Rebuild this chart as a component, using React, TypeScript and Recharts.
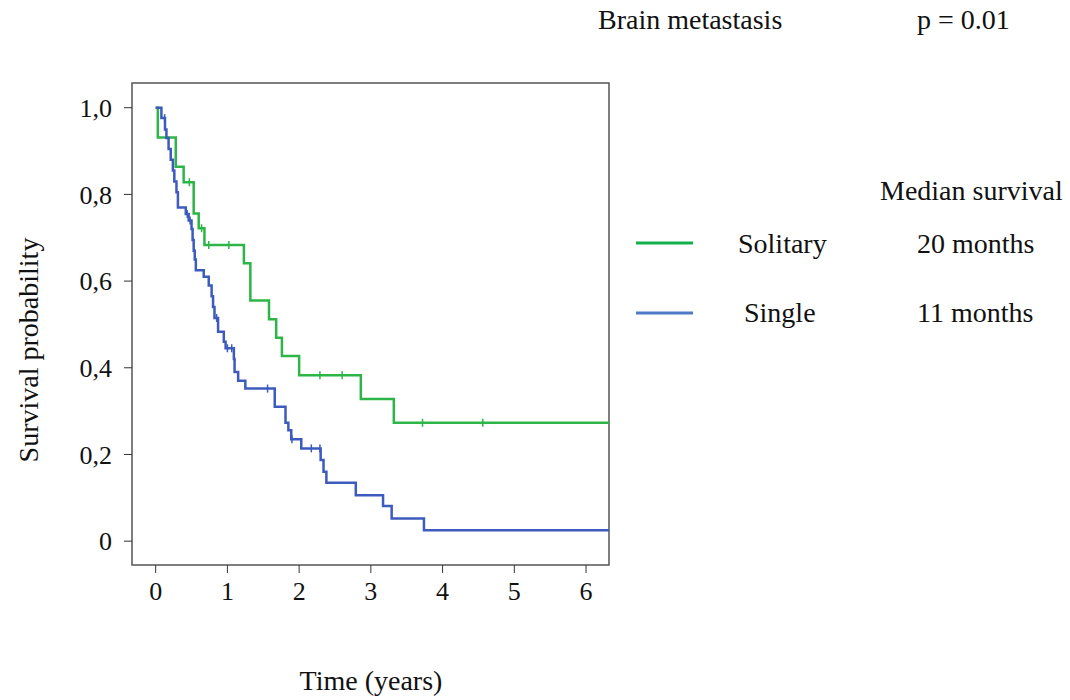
import React from "react";
import { ComposedChart, Line, Scatter, XAxis, YAxis, ReferenceArea } from "recharts";

// Kaplan-Meier step points (time in years, survival probability)
const solitaryTime = [0, 0.03, 0.28, 0.39, 0.53, 0.6, 0.68, 1.23, 1.32, 1.58, 1.68, 1.76, 2.0, 2.86, 3.32, 6.32];
const solitarySurv = [1.0, 0.931, 0.864, 0.828, 0.756, 0.722, 0.683, 0.641, 0.555, 0.512, 0.469, 0.427, 0.383, 0.328, 0.273, 0.273];
const solitaryCensored = [0.47, 0.64, 0.74, 1.02, 2.29, 2.6, 3.72, 4.56];

const singleTime = [
  0, 0.08, 0.13, 0.15, 0.18, 0.21, 0.24, 0.26, 0.29, 0.31, 0.42, 0.46, 0.5, 0.515, 0.53, 0.545, 0.56, 0.67, 0.74, 0.78,
  0.8, 0.82, 0.87, 0.95, 0.975, 1.09, 1.1, 1.15, 1.25, 1.66, 1.81, 1.85, 1.89, 2.03, 2.3, 2.34, 2.38, 2.79, 3.17, 3.29,
  3.74, 6.32
];
const singleSurv = [
  1.0, 0.976, 0.95, 0.93, 0.905, 0.88, 0.855, 0.83, 0.805, 0.77, 0.755, 0.74, 0.72, 0.695, 0.67, 0.65, 0.625, 0.61, 0.59, 0.565,
  0.54, 0.515, 0.483, 0.46, 0.445, 0.42, 0.39, 0.37, 0.352, 0.31, 0.273, 0.256, 0.235, 0.214, 0.187, 0.16, 0.135, 0.106, 0.081, 0.052,
  0.025, 0.025
];
const singleCensored = [0.125, 0.44, 0.48, 0.85, 1.0, 1.06, 1.56, 1.9, 2.17, 2.29];

const xTicks = [0, 1, 2, 3, 4, 5, 6];
const yTicks = [0, 0.2, 0.4, 0.6, 0.8, 1.0];
const xDomain: [number, number] = [-0.33, 6.32];
const yDomain: [number, number] = [-0.055, 1.057];

const GREEN = "#2db548";
const BLUE = "#3d5bbd";
const FONT = "'Liberation Serif', 'Times New Roman', serif";

const toRows = (t: number[], s: number[]) => t.map((time, i) => ({ t: time, s: s[i] }));
const stepAt = (t: number[], s: number[], x: number) => {
  let v = s[0];
  for (let i = 0; i < t.length; i++) if (t[i] <= x) v = s[i];
  return v;
};
const censorRows = (c: number[], t: number[], s: number[]) => c.map((x) => ({ t: x, s: stepAt(t, s, x) }));

const tickShape = (color: string) => (props: any) => {
  const { cx, cy } = props;
  return <line x1={cx} x2={cx} y1={cy - 4} y2={cy + 4} stroke={color} strokeWidth={1.5} />;
};

const yFormat = (v: number) => (v === 0 ? "0" : v.toFixed(1).replace(".", ","));

export default function App() {
  const textStyle = { fontFamily: FONT, fill: "#111" };
  return (
    <div style={{ position: "absolute", left: 0, top: 0, width: 1070, height: 700, background: "#fff" }}>
      <ComposedChart
        width={1070}
        height={700}
        margin={{ top: 83, right: 461, left: 52, bottom: 95 }}
      >
        <XAxis
          type="number"
          dataKey="t"
          domain={xDomain}
          ticks={xTicks}
          allowDataOverflow
          axisLine={false}
          tickLine={{ stroke: "#333" }}
          tickSize={8}
          tickMargin={9}
          height={40}
          tick={{ fontSize: 26, fontFamily: FONT, fill: "#111" }}
        />
        <YAxis
          type="number"
          domain={yDomain}
          ticks={yTicks}
          allowDataOverflow
          axisLine={false}
          tickLine={{ stroke: "#333" }}
          tickSize={8}
          tickMargin={12}
          width={80}
          tickFormatter={yFormat}
          tick={{ fontSize: 26, fontFamily: FONT, fill: "#111" }}
        />
        <ReferenceArea x1={xDomain[0]} x2={xDomain[1]} y1={yDomain[0]} y2={yDomain[1]} fill="none" stroke="#555" strokeWidth={1.5} />
        <Line
          data={toRows(solitaryTime, solitarySurv)}
          dataKey="s"
          type="stepAfter"
          stroke={GREEN}
          strokeWidth={2.5}
          dot={false}
          isAnimationActive={false}
        />
        <Line
          data={toRows(singleTime, singleSurv)}
          dataKey="s"
          type="stepAfter"
          stroke={BLUE}
          strokeWidth={2.5}
          dot={false}
          isAnimationActive={false}
        />
        <Scatter
          data={censorRows(solitaryCensored, solitaryTime, solitarySurv)}
          dataKey="s"
          shape={tickShape(GREEN)}
          isAnimationActive={false}
        />
        <Scatter
          data={censorRows(singleCensored, singleTime, singleSurv)}
          dataKey="s"
          shape={tickShape(BLUE)}
          isAnimationActive={false}
        />
      </ComposedChart>
      <svg width={1070} height={700} style={{ position: "absolute", left: 0, top: 0, pointerEvents: "none" }}>
        <text x={598} y={29} fontSize={28} style={textStyle}>Brain metastasis</text>
        <text x={917} y={29} fontSize={28} style={textStyle}>p = 0.01</text>
        <text x={880} y={200} fontSize={28} style={textStyle}>Median survival</text>
        <line x1={636} x2={693} y1={243} y2={243} stroke="#12b04a" strokeWidth={3} />
        <text x={738} y={253} fontSize={28} style={textStyle}>Solitary</text>
        <text x={917} y={253} fontSize={28} style={textStyle}>20 months</text>
        <line x1={636} x2={693} y1={313} y2={313} stroke="#4f7ac6" strokeWidth={3} />
        <text x={744} y={322} fontSize={28} style={textStyle}>Single</text>
        <text x={917} y={322} fontSize={28} style={textStyle}>11 months</text>
        <text x={371} y={690} fontSize={28} textAnchor="middle" style={textStyle}>Time (years)</text>
        <text x={38} y={350} fontSize={28} textAnchor="middle" transform="rotate(-90 38 350)" style={textStyle}>
          Survival probability
        </text>
      </svg>
    </div>
  );
}
